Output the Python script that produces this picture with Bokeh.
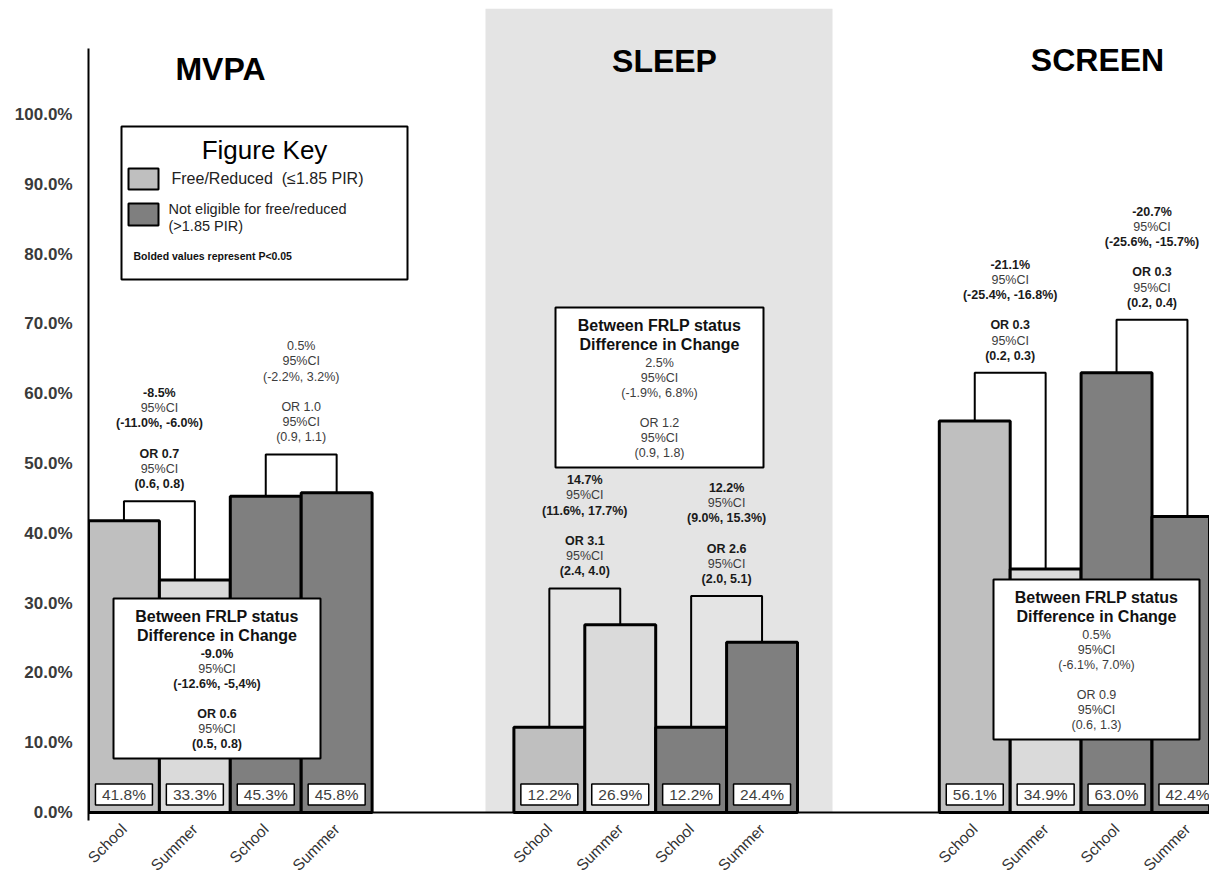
import math
from bokeh.plotting import figure
from bokeh.models import Range1d, FixedTicker, PrintfTickFormatter, ColumnDataSource, Span, LabelSet
from bokeh.core.properties import value
from bokeh.embed import file_html
from bokeh.resources import INLINE

# ---------------- data ----------------
groups = ["MVPA", "SLEEP", "SCREEN"]
periods = ["School", "Summer", "School", "Summer"]
status = ["FR", "FR", "NE", "NE"]
mvpa_vals = [41.8, 33.3, 45.3, 45.8]
sleep_vals = [12.2, 26.9, 12.2, 24.4]
screen_vals = [56.1, 34.9, 63.0, 42.4]

# bracket heights (FR, NE)
mvpa_brackets = [44.6, 51.3]
sleep_brackets = [32.1, 31.0]
screen_brackets = [63.0, 70.6]

# within-group change (FR, NE): change, CI, OR, CI ; significance flag
mvpa_within = [["-8.5%", "(-11.0%, -6.0%)", "OR 0.7", "(0.6, 0.8)"],
               ["0.5%", "(-2.2%, 3.2%)", "OR 1.0", "(0.9, 1.1)"]]
mvpa_within_sig = [True, False]
sleep_within = [["14.7%", "(11.6%, 17.7%)", "OR 3.1", "(2.4, 4.0)"],
                ["12.2%", "(9.0%, 15.3%)", "OR 2.6", "(2.0, 5.1)"]]
sleep_within_sig = [True, True]
screen_within = [["-21.1%", "(-25.4%, -16.8%)", "OR 0.3", "(0.2, 0.3)"],
                 ["-20.7%", "(-25.6%, -15.7%)", "OR 0.3", "(0.2, 0.4)"]]
screen_within_sig = [True, True]

# between FRLP status difference in change
between_header = ["Between FRLP status", "Difference in Change"]
mvpa_between = ["-9.0%", "(-12.6%, -5,4%)", "OR 0.6", "(0.5, 0.8)"]
sleep_between = ["2.5%", "(-1.9%, 6.8%)", "OR 1.2", "(0.9, 1.8)"]
screen_between = ["0.5%", "(-6.1%, 7.0%)", "OR 0.9", "(0.6, 1.3)"]
between_sig = [True, False, False]

y_ticks = [0, 10, 20, 30, 40, 50, 60, 70, 80, 90, 100]

legend_title = "Figure Key"
legend_labels = ["Free/Reduced\u00a0\u00a0(\u22641.85 PIR)", "Not eligible for free/reduced", "(>1.85 PIR)"]
legend_note = "Bolded values represent P<0.05"

# ---------------- layout ----------------
FONT = "Liberation Sans"
W = 70.9      # px per bar slot
PXY = 6.98    # px per percentage point
FIG_W, FIG_H = 1209, 875
BL, BT = 88, 8
Y0 = 812      # canvas row of the 0% baseline
XMAX = (FIG_W - BL) / W
YMAX = (Y0 - BT) / PXY
YMIN = -(FIG_H - Y0) / PXY

def X(px):   # canvas px -> data x
    return (px - BL) / W

def Y(py):   # canvas px -> data y
    return (Y0 - py) / PXY

group_start = [0, 6, 12]
vals_all = [mvpa_vals, sleep_vals, screen_vals]
brackets_all = [mvpa_brackets, sleep_brackets, screen_brackets]
within_all = [mvpa_within, sleep_within, screen_within]
within_sig_all = [mvpa_within_sig, sleep_within_sig, screen_within_sig]
between_all = [mvpa_between, sleep_between, screen_between]
title_px = [(220, 68), (664, 60), (1097, 59)]
box_px = [(113, 320, 598), (555, 763, 307), (993, 1199, 579)]  # left, right, top

COL = {("FR", "School"): "#bfbfbf", ("FR", "Summer"): "#dadada",
       ("NE", "School"): "#7f7f7f", ("NE", "Summer"): "#7f7f7f"}
BOLD_C = "#1a1a1a"
REG_C = "#3c3c3c"

p = figure(width=FIG_W, height=FIG_H, output_backend="svg", toolbar_location=None,
           x_range=Range1d(0, XMAX), y_range=Range1d(YMIN, YMAX),
           min_border_left=BL, min_border_bottom=0, min_border_top=BT, min_border_right=0)
p.outline_line_color = None
p.xgrid.visible = False
p.ygrid.visible = False
p.xaxis.visible = False
p.background_fill_color = "white"
p.border_fill_color = "white"

# sleep panel background
p.quad(left=[X(485)], right=[X(832)], bottom=[0], top=[YMAX], fill_color="#e4e4e4", line_color=None)

# bars
bx, btop, bcol, blab, bper = [], [], [], [], []
for g, start in enumerate(group_start):
    for i, v in enumerate(vals_all[g]):
        bx.append(start + i + 0.5)
        btop.append(v)
        bcol.append(COL[(status[i], periods[i])])
        blab.append(f"{v:.1f}%")
        bper.append(periods[i])
bars = ColumnDataSource(dict(x=bx, top=btop, color=bcol, label=blab, period=bper))

# brackets
xs, ys = [], []
for g, start in enumerate(group_start):
    vals = vals_all[g]
    for k in range(2):
        xl = start + 2 * k + 0.5
        xr = xl + 1
        h = brackets_all[g][k]
        xs.append([xl, xl, xr, xr])
        ys.append([vals[2 * k], h, h, vals[2 * k + 1]])
p.multi_line(xs=xs, ys=ys, line_color="black", line_width=2)

p.vbar(x="x", width=1, top="top", bottom=0, fill_color="color", line_color="black",
       line_width=3, source=bars)

# baseline (x axis line)
p.add_layout(Span(location=0, dimension="width", line_color="black", line_width=2))

# category labels under bars (rotated)
p.add_layout(LabelSet(x="x", y=-14 / PXY, text="period", angle=math.pi / 4, text_align="right",
                      text_baseline="middle", text_font=value(FONT), text_font_size="15.5px",
                      text_color="#333333", source=bars))

# value boxes at the base of bars
p.rect(x="x", y=18 / PXY, width=57, height=21, width_units="screen", height_units="screen",
       fill_color="white", line_color="black", line_width=1.5, source=bars)
p.text(x="x", y=18 / PXY, text="label", text_align="center", text_baseline="middle",
       text_font=value(FONT), text_font_size="15.5px", text_color="#404040", source=bars)

# within-group annotations above brackets
bold_txt = dict(x=[], y=[], text=[])
reg_txt = dict(x=[], y=[], text=[])
for g, start in enumerate(group_start):
    for k in range(2):
        cx = start + 2 * k + 1
        h = brackets_all[g][k]
        chg, ci, orr, orci = within_all[g][k]
        sig = within_sig_all[g][k]
        lines = [(chg, sig), ("95%CI", False), (ci, sig), None, (orr, sig), ("95%CI", False), (orci, sig)]
        for i, ln in enumerate(lines):
            if ln is None:
                continue
            yy = h + (17 + (6 - i) * 15.2) / PXY
            d = bold_txt if ln[1] else reg_txt
            d["x"].append(cx); d["y"].append(yy); d["text"].append(ln[0])

# between boxes
hdr = dict(x=[], y=[], text=[])
bl, br, bt, bb_ = [], [], [], []
offs = [55, 70, 85, 115, 130, 145]
for g in range(3):
    lpx, rpx, tpx = box_px[g]
    bl.append(X(lpx)); br.append(X(rpx)); bt.append(Y(tpx)); bb_.append(Y(tpx + 160))
    cx = X((lpx + rpx) / 2)
    hdr["x"] += [cx, cx]; hdr["y"] += [Y(tpx + 18), Y(tpx + 37)]; hdr["text"] += between_header
    chg, ci, orr, orci = between_all[g]
    sig = between_sig[g]
    lines = [(chg, sig), ("95%CI", False), (ci, sig), (orr, sig), ("95%CI", False), (orci, sig)]
    for o, ln in zip(offs, lines):
        d = bold_txt if ln[1] else reg_txt
        d["x"].append(cx); d["y"].append(Y(tpx + o)); d["text"].append(ln[0])

p.quad(left=bl, right=br, top=bt, bottom=bb_, fill_color="white", line_color="black", line_width=2)
p.text(x="x", y="y", text="text", source=ColumnDataSource(hdr), text_align="center",
       text_baseline="middle", text_font=value(FONT), text_font_size="16px",
       text_font_style="bold", text_color="#111111")
p.text(x="x", y="y", text="text", source=ColumnDataSource(bold_txt), text_align="center",
       text_baseline="middle", text_font=value(FONT), text_font_size="12.5px",
       text_font_style="bold", text_color=BOLD_C)
p.text(x="x", y="y", text="text", source=ColumnDataSource(reg_txt), text_align="center",
       text_baseline="middle", text_font=value(FONT), text_font_size="12.5px",
       text_color=REG_C)

# group titles
p.text(x=[X(t[0]) for t in title_px], y=[Y(t[1]) for t in title_px], text=groups,
       text_align="center", text_baseline="middle", text_font=value(FONT),
       text_font_size="32px", text_font_style="bold", text_color="black")

# figure key
p.quad(left=[X(121)], right=[X(407)], top=[Y(126)], bottom=[Y(279)],
       fill_color="white", line_color="black", line_width=2)
p.text(x=[X(264)], y=[Y(149)], text=[legend_title], text_align="center", text_baseline="middle",
       text_font=value(FONT), text_font_size="26px", text_color="black")
p.quad(left=[X(128), X(128)], right=[X(158), X(158)], top=[Y(168), Y(203)],
       bottom=[Y(189), Y(225)], fill_color=[COL[("FR", "School")], COL[("NE", "School")]],
       line_color="black", line_width=2)
p.text(x=[X(171)], y=[Y(178)], text=[legend_labels[0]], text_align="left", text_baseline="middle",
       text_font=value(FONT), text_font_size="16px", text_color="#222222")
p.text(x=[X(168), X(168)], y=[Y(208), Y(225)], text=legend_labels[1:], text_align="left",
       text_baseline="middle", text_font=value(FONT), text_font_size="14.5px", text_color="#222222")
p.text(x=[X(133)], y=[Y(255)], text=[legend_note], text_align="left", text_baseline="middle",
       text_font=value(FONT), text_font_size="10.5px", text_font_style="bold", text_color="#111111")

# y axis
ya = p.yaxis[0]
ya.ticker = FixedTicker(ticks=y_ticks)
ya.formatter = PrintfTickFormatter(format="%.1f%%")
ya.bounds = (Y(820), Y(48))
ya.axis_line_width = 2
ya.axis_line_color = "black"
ya.major_tick_line_color = None
ya.minor_tick_line_color = None
ya.major_tick_out = 0
ya.major_tick_in = 0
ya.major_label_standoff = 16
ya.major_label_text_font = FONT
ya.major_label_text_font_size = "17px"
ya.major_label_text_font_style = "bold"
ya.major_label_text_color = "#3a3a3a"

open("out.html", "w").write(file_html(p, INLINE))
